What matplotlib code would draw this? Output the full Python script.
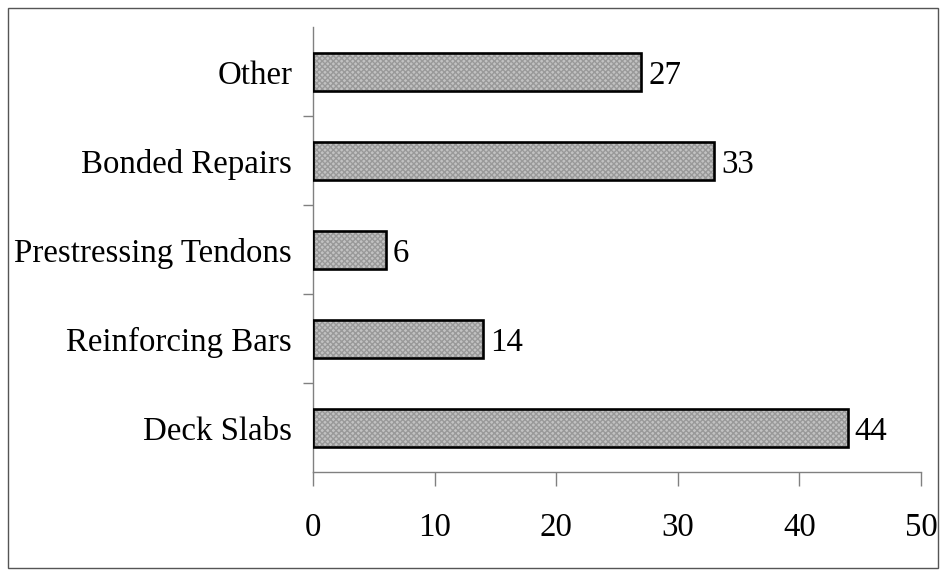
import matplotlib.pyplot as plt
from matplotlib.patches import Rectangle

## chart data
categories = ['Deck Slabs', 'Reinforcing Bars', 'Prestressing Tendons', 'Bonded Repairs', 'Other']
counts = [44, 14, 6, 33, 27]
xticks = [0, 10, 20, 30, 40, 50]

plt.rcParams['font.family'] = ['Liberation Serif', 'DejaVu Serif']
fs = 23.7

fig = plt.figure(figsize=(9.46, 5.75), dpi=100)
ax = fig.add_axes([0.3309, 0.1783, 0.6427, 0.7739])

ypos = list(range(len(categories)))
bars = ax.barh(ypos, counts, height=0.43, color='#c2c2c2', edgecolor='black',
               linewidth=1.9, hatch='xxxxxx', zorder=3)
for b in bars:
    b._hatch_color = (0.6, 0.6, 0.6, 1.0)

## value labels at the bar ends
for y, v in zip(ypos, counts):
    ax.text(v + 0.55, y, str(v), va='center_baseline', ha='left', fontsize=fs)

ax.set_xlim(0, 50)
ax.set_ylim(-0.5, len(categories) - 0.5)
ax.set_xticks(xticks)
ax.set_xticklabels([str(t) for t in xticks], fontsize=fs)
ax.set_yticks(ypos)
ax.set_yticklabels(categories, fontsize=fs, va='center_baseline')
ax.set_yticks([i + 0.5 for i in range(len(categories) - 1)], minor=True)

ax.tick_params(axis='y', which='major', length=0, pad=15)
ax.tick_params(axis='y', which='minor', length=7, width=1, color='#808080', direction='out')
ax.tick_params(axis='x', length=10, width=1, color='#808080', direction='out', pad=19)

for side in ['top', 'right']:
    ax.spines[side].set_visible(False)
for side in ['left', 'bottom']:
    ax.spines[side].set_color('#808080')
    ax.spines[side].set_linewidth(1)

## outer frame around the whole chart
fig.patches.append(Rectangle((8 / 946, 7 / 575), 930 / 946, 560 / 575, transform=fig.transFigure,
                             fill=False, edgecolor='#555555', linewidth=1))

fig.savefig('out.png', dpi=100)
